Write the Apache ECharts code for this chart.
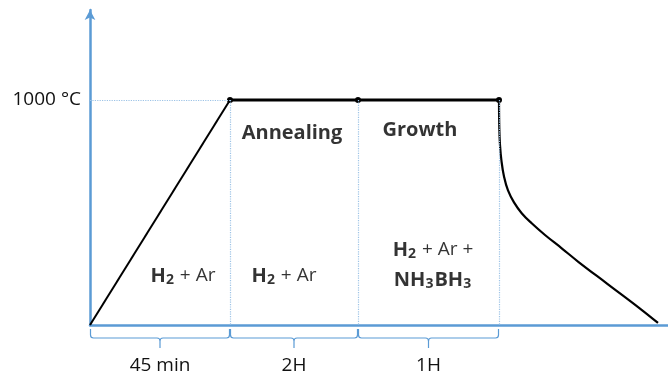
<!DOCTYPE html>
<html>
<head>
<meta charset="utf-8">
<script src="https://cdn.jsdelivr.net/npm/echarts@6/dist/echarts.min.js"></script>
<style>
  html, body { margin: 0; padding: 0; background: #fff; }
  #chart { width: 668px; height: 375px; }
</style>
</head>
<body>
<div id="chart"></div>
<script>
// Process timeline (schematic time units) and temperature in °C
const heatingRamp = [[0, 0], [140, 1000]];
const plateau = [[140, 1000], [268, 1000], [409, 1000]];
const cooling = [[409, 1000], [409.3, 876], [410, 800], [411.5, 728], [414, 660],
                 [418, 598], [424, 545], [431.7, 497], [441.7, 452], [455, 400],
                 [471.7, 341], [488.3, 281], [517, 184], [550, 73], [568, 9]];

// Stage boundaries along the time axis and their duration labels
const stages = [[0, 140, '45 min'], [140, 268, '2H'], [268, 409, '1H']];
const peakTemp = 1000;
const tempLabel = '1000 °C';

// Annotation texts anchored in data coordinates
const notes = [
  { value: [202, 853], text: '{b|Annealing}' },
  { value: [330, 867], text: '{b|Growth}' },
  { value: [93, 218],  text: '{b|H}{s|2}{r| + Ar}' },
  { value: [194, 218], text: '{b|H}{s|2}{r| + Ar}' },
  { value: [343, 267], text: '{b|H}{s|2}{r| + Ar +}\n{b|NH}{s|3}{b|BH}{s|3}' }
];

const BLUE = '#5b9bd5';
const GUIDE = '#9dc3e6';
const FONT = '"Open Sans", "Noto Sans", sans-serif';

const chart = echarts.init(document.getElementById('chart'), null, { renderer: 'canvas' });

const guideLines = [
  [{ coord: [0, peakTemp] }, { coord: [plateau[0][0], peakTemp] }]
].concat(stages.map(s => [{ coord: [s[1], peakTemp] }, { coord: [s[1], 0] }]));

chart.setOption({
  animation: false,
  grid: { left: 90, right: 0, top: 10, bottom: 50 },
  xAxis: {
    type: 'value', min: 0, max: 578,
    axisLine: { show: true, lineStyle: { color: BLUE, width: 2.5 } },
    axisTick: { show: false }, axisLabel: { show: false }, splitLine: { show: false }
  },
  yAxis: {
    type: 'value', min: 0, max: 1400, interval: 1000,
    axisLine: { show: true, symbol: ['none', 'arrow'], symbolSize: [8, 10],
                lineStyle: { color: BLUE, width: 2.5 } },
    axisTick: { show: false }, splitLine: { show: false },
    axisLabel: {
      margin: 9, color: '#111', fontFamily: FONT, fontSize: 19,
      formatter: v => (v === peakTemp ? tempLabel : '')
    }
  },
  series: [
    {
      type: 'line', data: heatingRamp, symbol: 'none', z: 3,
      lineStyle: { color: '#000', width: 2 },
      markLine: {
        silent: true, symbol: 'none', label: { show: false },
        lineStyle: { color: GUIDE, type: 'dotted', width: 1.2 },
        data: guideLines
      }
    },
    {
      type: 'line', data: plateau, symbol: 'circle', symbolSize: 6, z: 4,
      showSymbol: true,
      itemStyle: { color: '#000' },
      lineStyle: { color: '#000', width: 3 }
    },
    {
      type: 'line', data: cooling, symbol: 'none', smooth: 0.4, z: 3,
      lineStyle: { color: '#000', width: 2.2 }
    },
    {
      type: 'custom', clip: false, silent: true,
      data: stages,
      renderItem: function (params, api) {
        const a = api.coord([api.value(0), 0]);
        const b = api.coord([api.value(1), 0]);
        const x0 = a[0] + 0.5, x1 = b[0] - 0.5, y = a[1];
        const xm = (x0 + x1) / 2;
        const top = y + 4, mid = y + 13, tip = y + 23, r = 3;
        const d = `M${x0},${top} L${x0},${mid - r} Q${x0},${mid} ${x0 + r},${mid} ` +
                  `L${xm - r},${mid} Q${xm},${mid} ${xm},${mid + r} L${xm},${tip} ` +
                  `M${xm},${mid + r} Q${xm},${mid} ${xm + r},${mid} ` +
                  `L${x1 - r},${mid} Q${x1},${mid} ${x1},${mid - r} L${x1},${top}`;
        return {
          type: 'group',
          children: [
            { type: 'path', shape: { pathData: d },
              style: { fill: 'none', stroke: BLUE, lineWidth: 1.2 } },
            { type: 'text', x: xm, y: y + 41,
              style: { text: stages[params.dataIndex][2], fill: '#111',
                       font: `19px ${FONT}`, align: 'center', verticalAlign: 'middle' } }
          ]
        };
      }
    },
    {
      type: 'scatter', symbol: 'circle', symbolSize: 1, silent: true, z: 5,
      itemStyle: { color: 'rgba(0,0,0,0)' },
      data: notes.map(n => ({ value: n.value, label: { formatter: n.text } })),
      label: {
        show: true, position: 'inside', align: 'center', verticalAlign: 'middle',
        color: '#000', lineHeight: 30,
        rich: {
          b: { fontFamily: FONT, fontSize: 20, fontWeight: 'bold', color: '#000' },
          r: { fontFamily: FONT, fontSize: 19, color: '#000' },
          s: { fontFamily: FONT, fontSize: 14, fontWeight: 'bold', color: '#000',
               padding: [9, 1, 0, 0] }
        }
      }
    }
  ]
});
</script>
</body>
</html>
